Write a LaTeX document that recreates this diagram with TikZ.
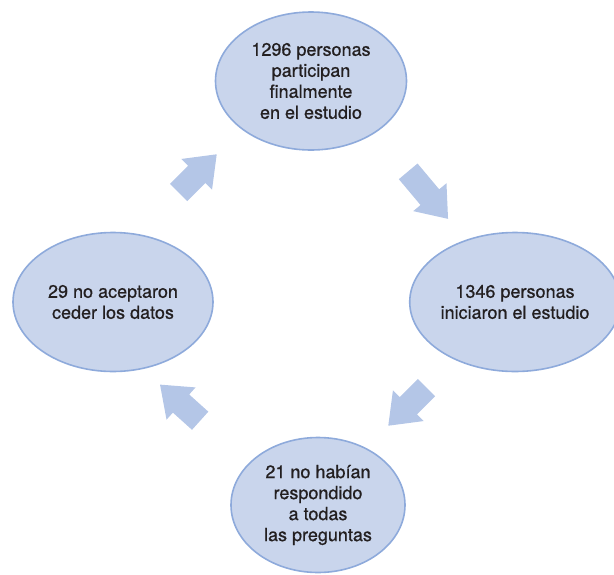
\documentclass[tikz,border=0pt]{standalone}
\usepackage{fontspec}
\setmainfont[FakeBold=0.7]{TeX Gyre Heros}
\usetikzlibrary{shapes.geometric,shapes.arrows}

\definecolor{bulle}{HTML}{C9D5EC}
\definecolor{bord}{HTML}{8EAADB}
\definecolor{fleche}{HTML}{B4C6E7}
\definecolor{texte}{HTML}{231F20}

\tikzset{
  etape/.style={ellipse, draw=bord, line width=1.6pt, fill=bulle, inner sep=0pt,
    align=center, text=texte, font=\fontsize{18}{21}\selectfont},
  grossefleche/.style={single arrow, fill=fleche, draw=none, inner sep=12pt,
    single arrow head extend=9.5pt, single arrow tip angle=75}
}

\begin{document}
\begin{tikzpicture}[x=1pt, y=-1pt]

  % cadre
  \useasboundingbox (0,0) rectangle (614,574);

  % Etapes
  \node[etape, minimum width=191pt, minimum height=138pt] (final) at (311,81)
    {1296 personas\\participan\\finalmente\\en el estudio};
  \node[etape, minimum width=197pt, minimum height=139pt] (inicio) at (515,302)
    {1346 personas\\iniciaron el estudio};
  \node[etape, minimum width=174pt, minimum height=135pt] (respuesta) at (318,505)
    {21 no habían\\respondido\\a todas\\las preguntas};
  \node[etape, minimum width=200pt, minimum height=139pt] (datos) at (113,302)
    {29 no aceptaron\\ceder los datos};

  % Fleches entre les etapes
  \foreach \nom/\x/\y/\ang/\long in {f1/192/179/45/54, f2/423/189/-50/62,
                                     f3/413/401/-135/54, f4/186/408/138/54} {
    \node[grossefleche, rotate=\ang, minimum height=\long pt] (\nom) at (\x,\y) {};
  }

\end{tikzpicture}
\end{document}
